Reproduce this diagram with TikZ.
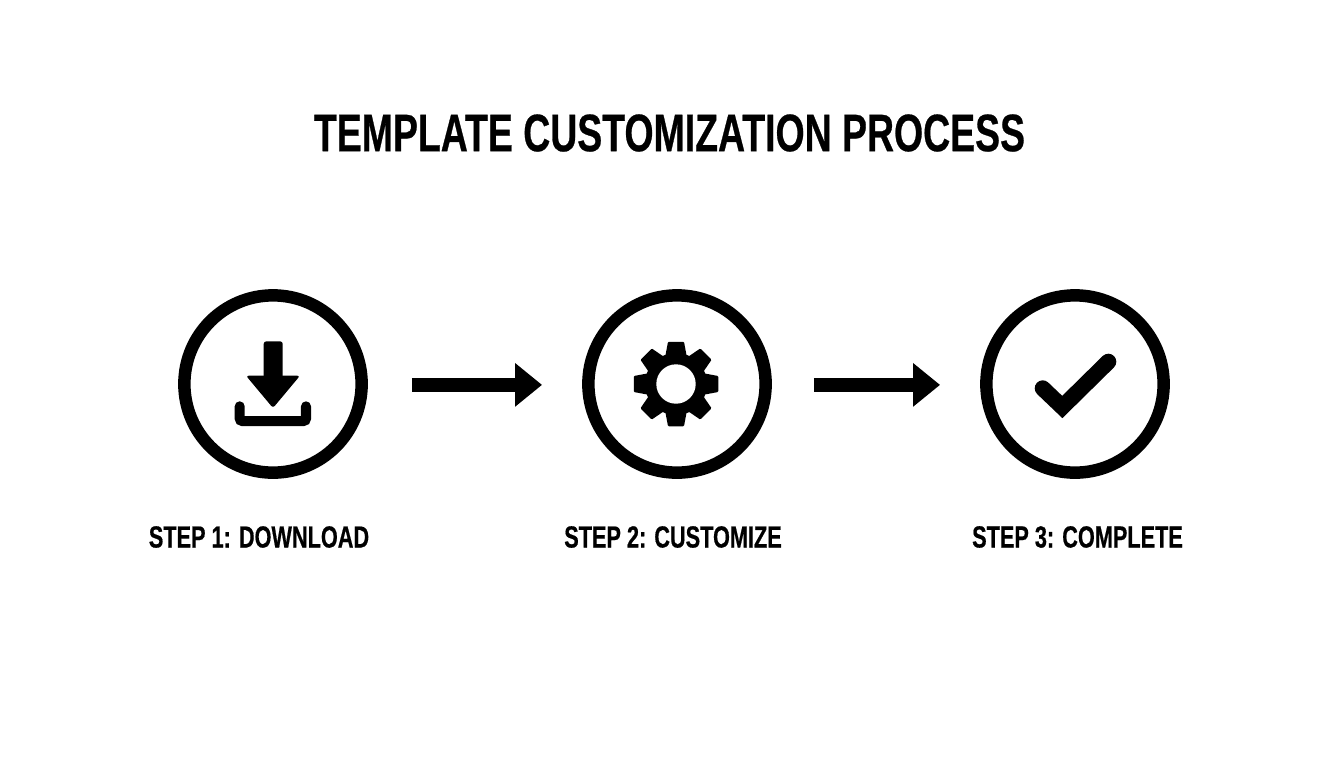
\documentclass[tikz,border=0pt]{standalone}
\usepackage{fontspec}
\setmainfont{Liberation Sans}[FakeStretch=0.71, BoldFeatures={FakeBold=0.5}]
\usetikzlibrary{arrows.meta}

\tikzset{
	ring/.style = {circle, draw, line width = 7.1pt, minimum size = 100.9pt, inner sep = 0pt},
	flow/.style = {-{Triangle[length = 15.4pt, width = 23.9pt]}, line width = 8pt},
	caption/.style = {inner sep = 0pt, font = \bfseries\fontsize{17.4}{20}\selectfont},
}

\begin{document}
\begin{tikzpicture}[x = 0.02cm, y = -0.02cm]

\useasboundingbox (0, 0) rectangle (1344, 768);

% The title

\node [inner sep = 0pt, font = \bfseries\fontsize{30}{34}\selectfont] (title) at (669.5, 133) {TEMPLATE CUSTOMIZATION PROCESS};

% The rings

\node [ring] (ring-1) at (273, 384) {};
\node [ring] (ring-2) at (677, 384) {};
\node [ring] (ring-3) at (1075, 384) {};

% The arrows

\draw [flow, shorten <= 25pt, shorten >= 22.8pt] ([yshift=-0.5pt] ring-1.east) -- ([yshift=-0.5pt] ring-2.west);
\draw [flow, shorten <= 23.9pt, shorten >= 22.8pt] ([yshift=-0.5pt] ring-2.east) -- ([yshift=-0.5pt] ring-3.west);

% Download icon

\fill [rounded corners = 1.5pt] (263.7, 380) -- (263.7, 341.3) -- (282.7, 341.3) -- (282.7, 380) -- cycle;
\fill [rounded corners = 1.5pt] (246, 375.7) -- (300, 375.7) -- (273, 408) -- cycle;
\draw [line width = 5.7pt, line cap = round, rounded corners = 1.5pt] (239.7, 406.3) -- (239.7, 421) -- (306, 421) -- (306, 406.3);

% Gear icon

\fill (676, 384) circle (31);
\foreach \a in {0, 45, ..., 315}
	\fill [rounded corners = 0.5pt, shift = {(676, 384)}] (\a - 22 : 29) -- (\a - 10.7 : 43) -- (\a + 10.7 : 43) -- (\a + 22 : 29) -- cycle;
\fill [white] (676, 384) circle (19.7);

% Check icon

\draw [line width = 9.1pt, line cap = round] (1042.7, 388.3) -- (1062.3, 407) -- (1108.3, 361.7);

% The captions

\node [caption] (caption-1) at (259, 537) {STEP 1: DOWNLOAD};
\node [caption] (caption-2) at (673, 537) {STEP 2: CUSTOMIZE};
\node [caption] (caption-3) at (1077.5, 537) {STEP 3: COMPLETE};

\end{tikzpicture}
\end{document}
